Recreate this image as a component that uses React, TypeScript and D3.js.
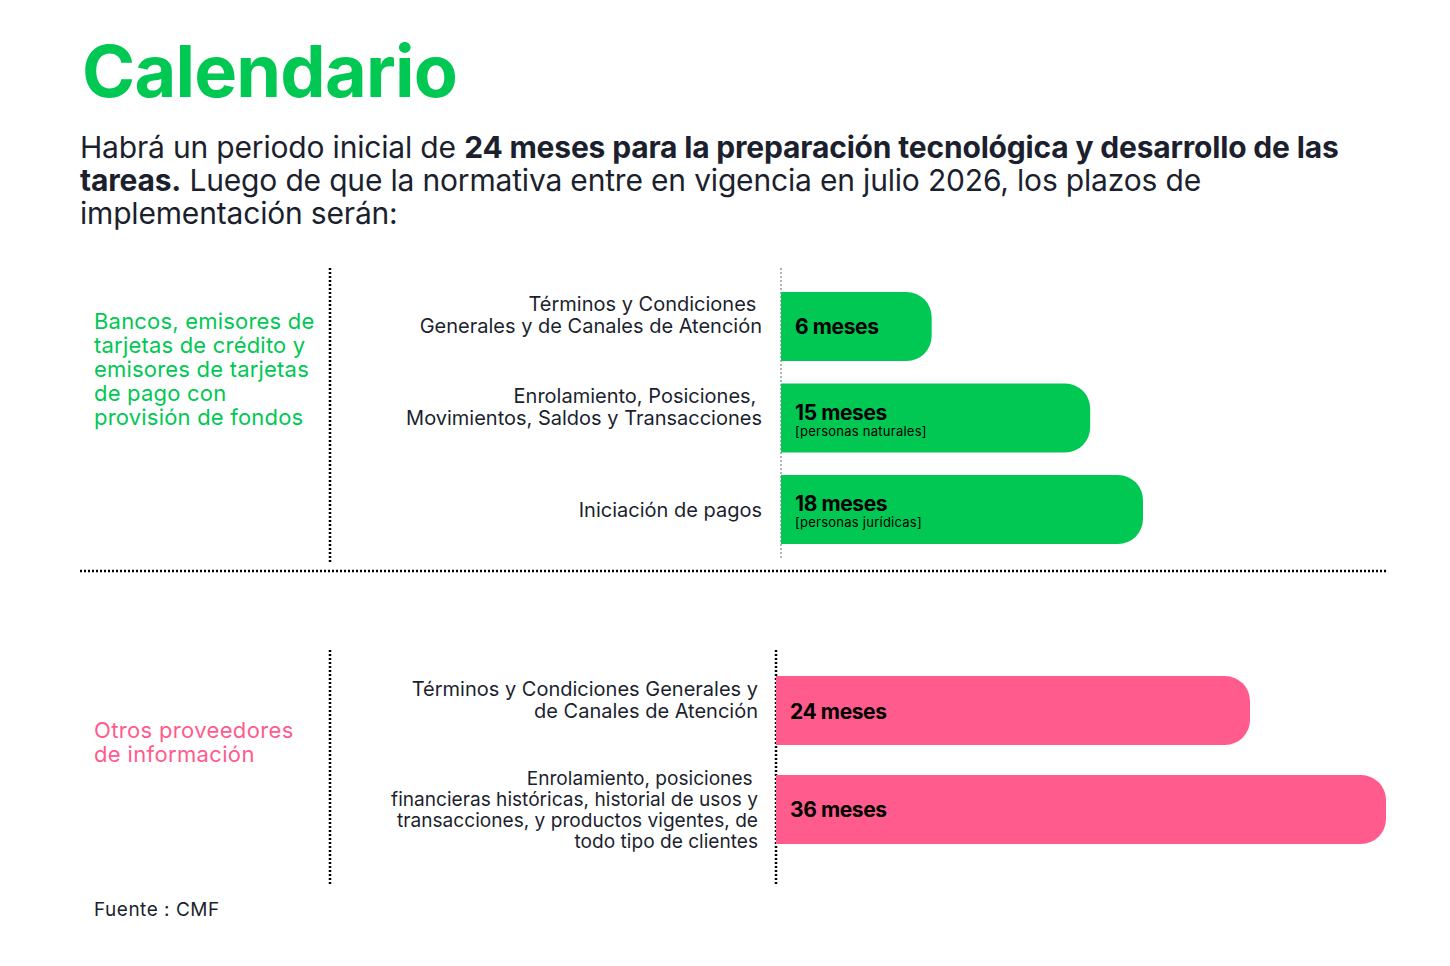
import React from "react";
import * as d3 from "d3";

// ---------- data ----------
const titleText = "Calendario";
const subtitleLines: [string, boolean][][] = [
  [["Habrá un periodo inicial de ", false], ["24 meses para la preparación tecnológica y desarrollo de las", true]],
  [["tareas.", true], [" Luego de que la normativa entre en vigencia en julio 2026, los plazos de", false]],
  [["implementación serán:", false]],
];

const topGroupLabel = ["Bancos, emisores de", "tarjetas de crédito y", "emisores de tarjetas", "de pago con", "provisión de fondos"];
const topCategories = [
  ["Términos y Condiciones ", "Generales y de Canales de Atención", ""],
  ["Enrolamiento, Posiciones, ", "Movimientos, Saldos y Transacciones", ""],
  ["Iniciación de pagos"],
];
const topMonths = [6, 15, 18];
const topNotes = ["", "[personas naturales]", "[personas jurídicas]"];

const bottomGroupLabel = ["Otros proveedores", "de información"];
const bottomCategories = [
  ["Términos y Condiciones Generales y", "de Canales de Atención", ""],
  ["Enrolamiento, posiciones ", "financieras históricas, historial de usos y", "transacciones, y productos vigentes, de", "todo tipo de clientes"],
];
const bottomMonths = [24, 36];
const bottomNotes = ["", ""];

const sourceText = "Fuente : CMF";

// ---------- style ----------
const GREEN = "#00c853";
const PINK = "#ff5c8d";
const INK = "#1b1f2e";
const FONT = "Inter, 'Noto Sans', sans-serif";

function barPath(x0: number, x1: number, y0: number, h: number, r: number) {
  const y1 = y0 + h;
  const rr = Math.min(r, (x1 - x0) / 2, h / 2);
  return `M${x0},${y0}H${x1 - rr}A${rr},${rr} 0 0 1 ${x1},${y0 + rr}V${y1 - rr}A${rr},${rr} 0 0 1 ${x1 - rr},${y1}H${x0}Z`;
}

function Panel(props: {
  categories: string[][];
  months: number[];
  notes: string[];
  color: string;
  axisX: number;
  yRange: [number, number];
  padding: number;
  x: d3.ScaleLinear<number, number>;
  labelRight: number;
  labelFont: number[];
  labelLH: number[];
}) {
  const { categories, months, notes, color, axisX, yRange, padding, x, labelRight, labelFont, labelLH } = props;
  const y = d3.scaleBand<number>().domain(months.map((_, i) => i)).range(yRange).paddingInner(padding).paddingOuter(0);
  const bw = y.bandwidth();
  return (
    <g>
      {months.map((m, i) => {
        const y0 = y(i)!;
        const cy = y0 + bw / 2;
        const lines = categories[i];
        const n = lines.length;
        const lh = labelLH[i];
        const fs = labelFont[i];
        const note = notes[i];
        return (
          <g key={i}>
            <path d={barPath(axisX, x(m), y0, bw, 25)} fill={color} />
            <text
              x={axisX + 14}
              y={note ? cy + 1.5 : cy + 8}
              fontFamily={FONT}
              fontWeight={700}
              fontSize={21}
              letterSpacing={-0.4}
              fill="#000"
            >
              {`${m} meses`}
            </text>
            {note && (
              <text x={axisX + 14} y={cy + 17.5} fontFamily={FONT} fontSize={13} letterSpacing={0.25} fill="#000">
                {note}
              </text>
            )}
            <text textAnchor="end" fontFamily={FONT} fontSize={fs} fill={INK} letterSpacing={0}>
              {lines.map((l, j) => (
                <tspan key={j} x={labelRight} y={cy + 7 + (j - (n - 1) / 2) * lh} style={{ whiteSpace: "pre" }}>
                  {l}
                </tspan>
              ))}
            </text>
          </g>
        );
      })}
    </g>
  );
}

export default function App() {
  const W = 1450;
  const H = 966;

  const topAxis = 781;
  const bottomAxis = 776;
  const xTop = d3.scaleLinear().domain([0, d3.max(topMonths)!]).range([topAxis + 45, topAxis + 362]);
  const xBottom = d3.scaleLinear().domain([0, d3.max(bottomMonths)!]).range([bottomAxis + 202, bottomAxis + 610]);

  const dot = { stroke: "#000", strokeWidth: 2.5, strokeDasharray: "2 2" };

  return (
    <svg width={W} height={H} style={{ position: "absolute", left: 0, top: 0, background: "#fff" }}>
      <rect width={W} height={H} fill="#fff" />
      {/* title */}
      <text x={82} y={97} fontFamily={FONT} fontWeight={700} fontSize={72} letterSpacing={-0.8} fill={GREEN}>
        {titleText}
      </text>
      {/* subtitle */}
      {subtitleLines.map((line, i) => (
        <text key={i} x={80} y={158 + i * 33} fontFamily={FONT} fontSize={30} letterSpacing={-0.18} fill={INK}>
          {line.map(([t, b], j) => (
            <tspan key={j} fontWeight={b ? 700 : 400} style={{ whiteSpace: "pre" }}>
              {t}
            </tspan>
          ))}
        </text>
      ))}

      {/* top group label */}
      <text fontFamily={FONT} fontSize={22} fill={GREEN} letterSpacing={0.2}>
        {topGroupLabel.map((l, i) => (
          <tspan key={i} x={94} y={329 + i * 24}>
            {l}
          </tspan>
        ))}
      </text>
      {/* bottom group label */}
      <text fontFamily={FONT} fontSize={22} fill={PINK} letterSpacing={0.35}>
        {bottomGroupLabel.map((l, i) => (
          <tspan key={i} x={94} y={738 + i * 24}>
            {l}
          </tspan>
        ))}
      </text>

      {/* dotted separators */}
      <line x1={330} x2={330} y1={268} y2={562} {...dot} />
      <line x1={topAxis} x2={topAxis} y1={268} y2={560} stroke="#666" strokeWidth={1} strokeDasharray="2 2" />
      <line x1={80} x2={1387} y1={571} y2={571} {...dot} />
      <line x1={330} x2={330} y1={650} y2={885} {...dot} />
      <line x1={bottomAxis} x2={bottomAxis} y1={650} y2={885} {...dot} />

      <Panel
        categories={topCategories}
        months={topMonths}
        notes={topNotes}
        color={GREEN}
        axisX={topAxis}
        yRange={[292, 544]}
        padding={0.246}
        x={xTop}
        labelRight={762}
        labelFont={[20, 20, 20]}
        labelLH={[22, 22, 22]}
      />
      <Panel
        categories={bottomCategories}
        months={bottomMonths}
        notes={bottomNotes}
        color={PINK}
        axisX={bottomAxis}
        yRange={[676, 844]}
        padding={0.303}
        x={xBottom}
        labelRight={758}
        labelFont={[20, 19.1]}
        labelLH={[22, 21]}
      />

      <text x={94} y={916} fontFamily={FONT} fontSize={19} fill={INK} letterSpacing={0.5}>
        {sourceText}
      </text>
    </svg>
  );
}
